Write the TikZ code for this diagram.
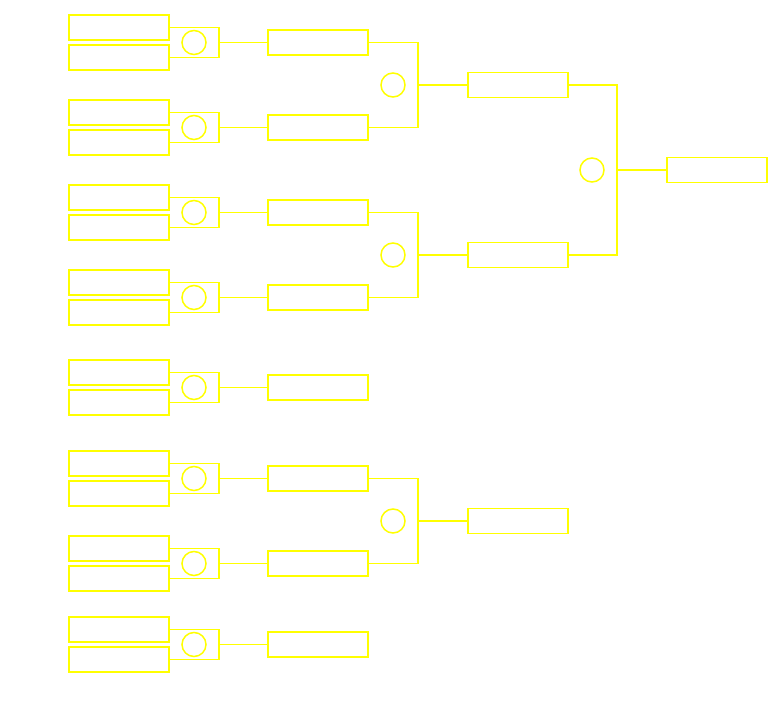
\documentclass[tikz,border=0pt]{standalone}
\definecolor{yel}{RGB}{255,255,0}
\begin{document}
\begin{tikzpicture}[x=1bp,y=-1bp,line width=1.5bp,
  team/.style={draw=yel,rectangle,minimum width=100bp,minimum height=25bp,inner sep=0pt},
  ring/.style={draw=yel,circle,minimum size=24bp,inner sep=0pt},
  link/.style={draw=yel}]
\useasboundingbox (0,0) rectangle (774,714);
% first round pairs
\foreach \i/\y in {1/15,2/100,3/185,4/270,5/360,6/451,7/536,8/617}{
  \node[team] (p\i a) at (119,\y+12.5) {};
  \node[team] (p\i b) at (119,\y+42.5) {};
  \node[team] (r\i) at (318,\y+27.5) {};
  \coordinate (j\i) at (219,\y+27.5);
  \node[ring] (o\i) at (194,\y+27.5) {};
  \draw[link] (p\i a.east) -| (j\i) |- (p\i b.east);
  \draw[link] (j\i) -- (r\i.west);
}
% second round
\node[team] (c1) at (518,85) {};
\node[team] (c2) at (518,255) {};
\node[team] (c3) at (518,521) {};
\coordinate (k1) at (418,85);
\coordinate (k2) at (418,255);
\coordinate (k3) at (418,521);
\node[ring] (q1) at (393,85) {};
\node[ring] (q2) at (393,255) {};
\node[ring] (q3) at (393,521) {};
\draw[link] (r1.east) -| (k1) |- (r2.east);
\draw[link] (k1) -- (c1.west);
\draw[link] (r3.east) -| (k2) |- (r4.east);
\draw[link] (k2) -- (c2.west);
\draw[link] (r6.east) -| (k3) |- (r7.east);
\draw[link] (k3) -- (c3.west);
% final
\node[team] (d) at (717,170) {};
\coordinate (m) at (617,170);
\node[ring] (s) at (592,170) {};
\draw[link] (c1.east) -| (m) |- (c2.east);
\draw[link] (m) -- (d.west);
\end{tikzpicture}
\end{document}
